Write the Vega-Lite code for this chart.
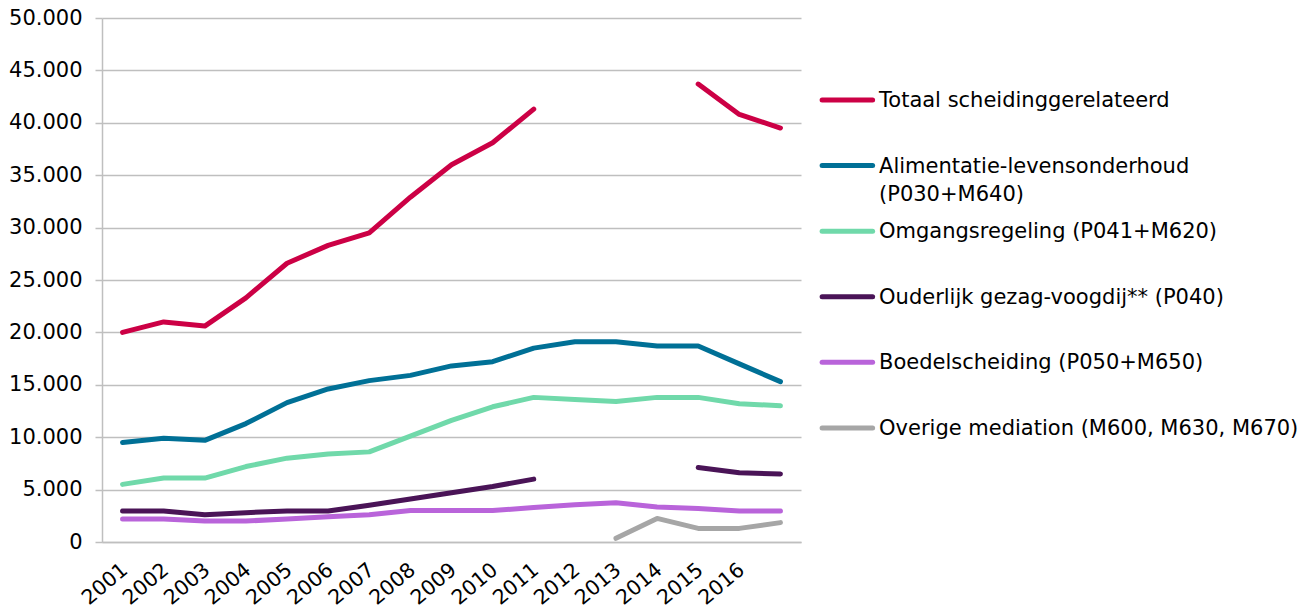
{
  "$schema": "https://vega.github.io/schema/vega-lite/v6.json",
  "padding": {"left": 8, "top": 7, "right": 0, "bottom": 0},
  "background": "white",
  "config": {"font": "DejaVu Sans", "view": {"stroke": null}, "concat": {"spacing": 0}},
  "datasets": {
    "series": [
      {"year": "2001", "series": "Totaal scheidinggerelateerd", "value": 20000},
      {"year": "2002", "series": "Totaal scheidinggerelateerd", "value": 21000},
      {"year": "2003", "series": "Totaal scheidinggerelateerd", "value": 20600},
      {"year": "2004", "series": "Totaal scheidinggerelateerd", "value": 23300},
      {"year": "2005", "series": "Totaal scheidinggerelateerd", "value": 26600},
      {"year": "2006", "series": "Totaal scheidinggerelateerd", "value": 28300},
      {"year": "2007", "series": "Totaal scheidinggerelateerd", "value": 29500},
      {"year": "2008", "series": "Totaal scheidinggerelateerd", "value": 32900},
      {"year": "2009", "series": "Totaal scheidinggerelateerd", "value": 36000},
      {"year": "2010", "series": "Totaal scheidinggerelateerd", "value": 38100},
      {"year": "2011", "series": "Totaal scheidinggerelateerd", "value": 41300},
      {"year": "2012", "series": "Totaal scheidinggerelateerd", "value": null},
      {"year": "2013", "series": "Totaal scheidinggerelateerd", "value": null},
      {"year": "2014", "series": "Totaal scheidinggerelateerd", "value": null},
      {"year": "2015", "series": "Totaal scheidinggerelateerd", "value": 43700},
      {"year": "2016", "series": "Totaal scheidinggerelateerd", "value": 40800},
      {"year": "2017", "series": "Totaal scheidinggerelateerd", "value": 39500},

      {"year": "2001", "series": "Alimentatie-levensonderhoud (P030+M640)", "value": 9500},
      {"year": "2002", "series": "Alimentatie-levensonderhoud (P030+M640)", "value": 9900},
      {"year": "2003", "series": "Alimentatie-levensonderhoud (P030+M640)", "value": 9700},
      {"year": "2004", "series": "Alimentatie-levensonderhoud (P030+M640)", "value": 11300},
      {"year": "2005", "series": "Alimentatie-levensonderhoud (P030+M640)", "value": 13300},
      {"year": "2006", "series": "Alimentatie-levensonderhoud (P030+M640)", "value": 14600},
      {"year": "2007", "series": "Alimentatie-levensonderhoud (P030+M640)", "value": 15400},
      {"year": "2008", "series": "Alimentatie-levensonderhoud (P030+M640)", "value": 15900},
      {"year": "2009", "series": "Alimentatie-levensonderhoud (P030+M640)", "value": 16800},
      {"year": "2010", "series": "Alimentatie-levensonderhoud (P030+M640)", "value": 17200},
      {"year": "2011", "series": "Alimentatie-levensonderhoud (P030+M640)", "value": 18500},
      {"year": "2012", "series": "Alimentatie-levensonderhoud (P030+M640)", "value": 19100},
      {"year": "2013", "series": "Alimentatie-levensonderhoud (P030+M640)", "value": 19100},
      {"year": "2014", "series": "Alimentatie-levensonderhoud (P030+M640)", "value": 18700},
      {"year": "2015", "series": "Alimentatie-levensonderhoud (P030+M640)", "value": 18700},
      {"year": "2016", "series": "Alimentatie-levensonderhoud (P030+M640)", "value": 17000},
      {"year": "2017", "series": "Alimentatie-levensonderhoud (P030+M640)", "value": 15300},

      {"year": "2001", "series": "Omgangsregeling (P041+M620)", "value": 5500},
      {"year": "2002", "series": "Omgangsregeling (P041+M620)", "value": 6100},
      {"year": "2003", "series": "Omgangsregeling (P041+M620)", "value": 6100},
      {"year": "2004", "series": "Omgangsregeling (P041+M620)", "value": 7200},
      {"year": "2005", "series": "Omgangsregeling (P041+M620)", "value": 8000},
      {"year": "2006", "series": "Omgangsregeling (P041+M620)", "value": 8400},
      {"year": "2007", "series": "Omgangsregeling (P041+M620)", "value": 8600},
      {"year": "2008", "series": "Omgangsregeling (P041+M620)", "value": 10100},
      {"year": "2009", "series": "Omgangsregeling (P041+M620)", "value": 11600},
      {"year": "2010", "series": "Omgangsregeling (P041+M620)", "value": 12900},
      {"year": "2011", "series": "Omgangsregeling (P041+M620)", "value": 13800},
      {"year": "2012", "series": "Omgangsregeling (P041+M620)", "value": 13600},
      {"year": "2013", "series": "Omgangsregeling (P041+M620)", "value": 13400},
      {"year": "2014", "series": "Omgangsregeling (P041+M620)", "value": 13800},
      {"year": "2015", "series": "Omgangsregeling (P041+M620)", "value": 13800},
      {"year": "2016", "series": "Omgangsregeling (P041+M620)", "value": 13200},
      {"year": "2017", "series": "Omgangsregeling (P041+M620)", "value": 13000},

      {"year": "2001", "series": "Ouderlijk gezag-voogdij** (P040)", "value": 2950},
      {"year": "2002", "series": "Ouderlijk gezag-voogdij** (P040)", "value": 2950},
      {"year": "2003", "series": "Ouderlijk gezag-voogdij** (P040)", "value": 2600},
      {"year": "2004", "series": "Ouderlijk gezag-voogdij** (P040)", "value": 2800},
      {"year": "2005", "series": "Ouderlijk gezag-voogdij** (P040)", "value": 2950},
      {"year": "2006", "series": "Ouderlijk gezag-voogdij** (P040)", "value": 2950},
      {"year": "2007", "series": "Ouderlijk gezag-voogdij** (P040)", "value": 3500},
      {"year": "2008", "series": "Ouderlijk gezag-voogdij** (P040)", "value": 4100},
      {"year": "2009", "series": "Ouderlijk gezag-voogdij** (P040)", "value": 4700},
      {"year": "2010", "series": "Ouderlijk gezag-voogdij** (P040)", "value": 5300},
      {"year": "2011", "series": "Ouderlijk gezag-voogdij** (P040)", "value": 6000},
      {"year": "2012", "series": "Ouderlijk gezag-voogdij** (P040)", "value": null},
      {"year": "2013", "series": "Ouderlijk gezag-voogdij** (P040)", "value": null},
      {"year": "2014", "series": "Ouderlijk gezag-voogdij** (P040)", "value": null},
      {"year": "2015", "series": "Ouderlijk gezag-voogdij** (P040)", "value": 7100},
      {"year": "2016", "series": "Ouderlijk gezag-voogdij** (P040)", "value": 6600},
      {"year": "2017", "series": "Ouderlijk gezag-voogdij** (P040)", "value": 6500},

      {"year": "2001", "series": "Boedelscheiding (P050+M650)", "value": 2200},
      {"year": "2002", "series": "Boedelscheiding (P050+M650)", "value": 2200},
      {"year": "2003", "series": "Boedelscheiding (P050+M650)", "value": 2000},
      {"year": "2004", "series": "Boedelscheiding (P050+M650)", "value": 2000},
      {"year": "2005", "series": "Boedelscheiding (P050+M650)", "value": 2200},
      {"year": "2006", "series": "Boedelscheiding (P050+M650)", "value": 2400},
      {"year": "2007", "series": "Boedelscheiding (P050+M650)", "value": 2600},
      {"year": "2008", "series": "Boedelscheiding (P050+M650)", "value": 3000},
      {"year": "2009", "series": "Boedelscheiding (P050+M650)", "value": 3000},
      {"year": "2010", "series": "Boedelscheiding (P050+M650)", "value": 3000},
      {"year": "2011", "series": "Boedelscheiding (P050+M650)", "value": 3300},
      {"year": "2012", "series": "Boedelscheiding (P050+M650)", "value": 3550},
      {"year": "2013", "series": "Boedelscheiding (P050+M650)", "value": 3750},
      {"year": "2014", "series": "Boedelscheiding (P050+M650)", "value": 3350},
      {"year": "2015", "series": "Boedelscheiding (P050+M650)", "value": 3200},
      {"year": "2016", "series": "Boedelscheiding (P050+M650)", "value": 2950},
      {"year": "2017", "series": "Boedelscheiding (P050+M650)", "value": 2950},

      {"year": "2013", "series": "Overige mediation (M600, M630, M670)", "value": 350},
      {"year": "2014", "series": "Overige mediation (M600, M630, M670)", "value": 2250},
      {"year": "2015", "series": "Overige mediation (M600, M630, M670)", "value": 1300},
      {"year": "2016", "series": "Overige mediation (M600, M630, M670)", "value": 1300},
      {"year": "2017", "series": "Overige mediation (M600, M630, M670)", "value": 1850}
    ],
    "legend": [
      {"series": "Totaal scheidinggerelateerd", "rank": 0, "label": "Totaal scheidinggerelateerd"},
      {"series": "Alimentatie-levensonderhoud (P030+M640)", "rank": 1, "label": "Alimentatie-levensonderhoud\n(P030+M640)"},
      {"series": "Omgangsregeling (P041+M620)", "rank": 2, "label": "Omgangsregeling (P041+M620)"},
      {"series": "Ouderlijk gezag-voogdij** (P040)", "rank": 3, "label": "Ouderlijk gezag-voogdij** (P040)"},
      {"series": "Boedelscheiding (P050+M650)", "rank": 4, "label": "Boedelscheiding (P050+M650)"},
      {"series": "Overige mediation (M600, M630, M670)", "rank": 5, "label": "Overige mediation (M600, M630, M670)"}
    ]
  },
  "hconcat": [
    {
      "width": 699,
      "height": 524,
      "data": {"name": "series"},
      "mark": {"type": "line", "strokeWidth": 5, "strokeCap": "round", "strokeJoin": "round"},
      "encoding": {
        "x": {
          "field": "year",
          "type": "ordinal",
          "scale": {"type": "point", "padding": 0.5},
          "axis": {
            "title": null,
            "labelAngle": -40,
            "labelAlign": "right",
            "labelBaseline": "middle",
            "labelFontSize": 20.5,
            "labelColor": "#000000",
            "labelPadding": 25,
            "labelOffset": 2,
            "ticks": false,
            "grid": false,
            "domain": true,
            "domainColor": "#BFBFBF",
            "domainWidth": 1.5,
            "labelOverlap": false,
            "labelExpr": "datum.value == '2017' ? '' : datum.value"
          }
        },
        "y": {
          "field": "value",
          "type": "quantitative",
          "scale": {"domain": [0, 50000], "nice": false, "zero": true},
          "axis": {
            "title": null,
            "values": [0, 5000, 10000, 15000, 20000, 25000, 30000, 35000, 40000, 45000, 50000],
            "labelExpr": "replace(format(datum.value, ','), ',', '.')",
            "labelFontSize": 21,
            "labelColor": "#000000",
            "labelPadding": 13,
            "tickSize": 7,
            "tickColor": "#BFBFBF",
            "tickWidth": 1.5,
            "domainColor": "#BFBFBF",
            "domainWidth": 1.5,
            "grid": true,
            "gridColor": "#BFBFBF",
            "gridWidth": 1.5
          }
        },
        "color": {
          "field": "series",
          "type": "nominal",
          "scale": {
            "domain": [
              "Totaal scheidinggerelateerd",
              "Alimentatie-levensonderhoud (P030+M640)",
              "Omgangsregeling (P041+M620)",
              "Ouderlijk gezag-voogdij** (P040)",
              "Boedelscheiding (P050+M650)",
              "Overige mediation (M600, M630, M670)"
            ],
            "range": ["#CC0045", "#007096", "#70D9AA", "#4A1457", "#B964DA", "#A6A6A6"]
          },
          "legend": null
        }
      }
    },
    {
      "width": 505,
      "height": 524,
      "data": {"name": "legend"},
      "layer": [
        {
          "mark": {"type": "rule", "strokeWidth": 5, "strokeCap": "round"},
          "encoding": {
            "x": {"datum": 23, "type": "quantitative", "scale": {"domain": [0, 505]}, "axis": null},
            "x2": {"datum": 78},
            "y": {"field": "rank", "type": "quantitative", "scale": {"domain": [-1.25, 6.74], "reverse": true, "nice": false, "zero": false}, "axis": null},
            "color": {"field": "series", "type": "nominal", "legend": null}
          }
        },
        {
          "mark": {"type": "text", "align": "left", "baseline": "alphabetic", "dy": 7, "fontSize": 21, "lineBreak": "\n", "lineHeight": 28, "color": "#000000"},
          "encoding": {
            "x": {"datum": 85, "type": "quantitative"},
            "y": {"field": "rank", "type": "quantitative"},
            "text": {"field": "label"}
          }
        }
      ]
    }
  ]
}
